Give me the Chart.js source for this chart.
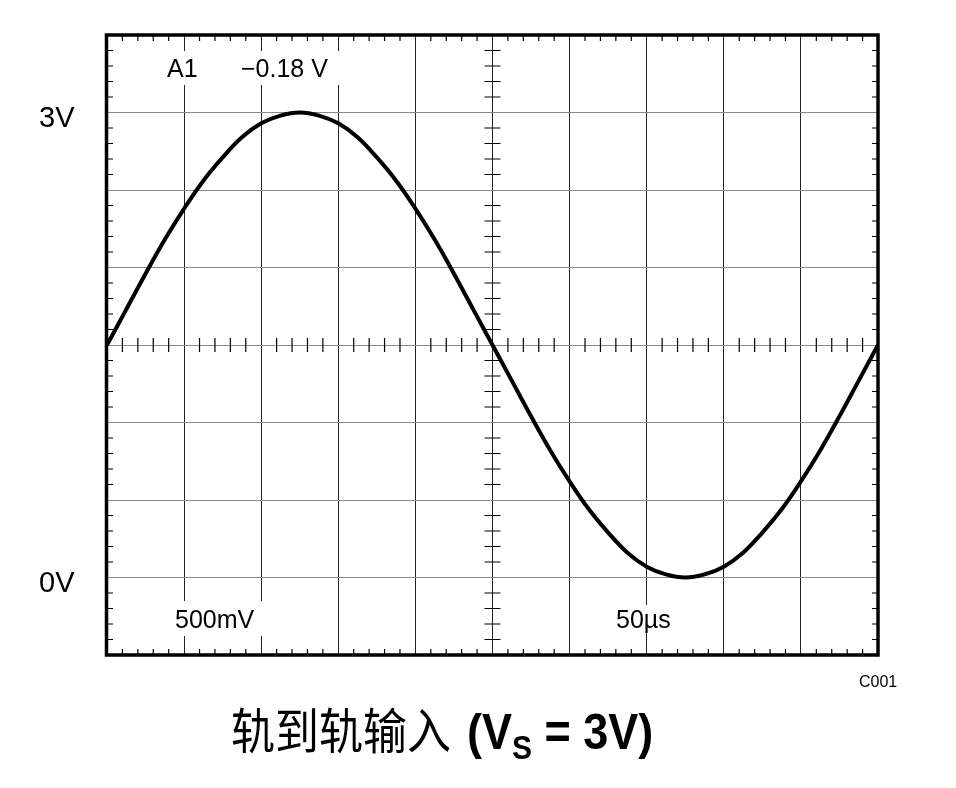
<!DOCTYPE html>
<html>
<head>
<meta charset="utf-8">
<script src="https://cdn.jsdelivr.net/npm/chart.js@4.4.1/dist/chart.umd.min.js"></script>
<style>
  html, body { margin: 0; padding: 0; background: #fff; }
  #wrap { position: relative; width: 956px; height: 788px; }
</style>
</head>
<body>
<div id="wrap"><canvas id="scope" width="956" height="788"></canvas></div>
<script>
// time in microseconds, 50us per division
const timeUs = [0, 12.5, 25, 37.5, 50, 62.5, 75, 87.5, 100, 112.5, 125, 137.5, 150, 162.5, 175, 187.5, 200, 212.5, 225, 237.5,
                250, 262.5, 275, 287.5, 300, 312.5, 325, 337.5, 350, 362.5, 375, 387.5, 400, 412.5, 425, 437.5, 450, 462.5, 475, 487.5, 500];
// input voltage, 500mV per division
const voltage = [1.50, 1.73, 1.96, 2.18, 2.38, 2.56, 2.71, 2.84, 2.93, 2.98, 3.00, 2.98, 2.93, 2.84, 2.71, 2.56, 2.38, 2.18, 1.96, 1.73,
                 1.50, 1.27, 1.04, 0.82, 0.62, 0.44, 0.29, 0.16, 0.07, 0.02, 0.00, 0.02, 0.07, 0.16, 0.29, 0.44, 0.62, 0.82, 1.04, 1.27, 1.50];
const timeRange = [0, 500];
const voltRange = [-0.5, 3.5];
const levelLabels = [3, 0];

const latin = 'Arial, "Liberation Sans", Helvetica, sans-serif';

// ticks, labels and the heavy frame of the scope screen
const scopeDecor = {
  id: 'scopeDecor',
  beforeDatasetsDraw(chart) {
    const { ctx, chartArea: a, scales: { x, y } } = chart;
    const divX = x.getPixelForValue(50) - x.getPixelForValue(0);
    const divY = y.getPixelForValue(0) - y.getPixelForValue(0.5);
    const cx = x.getPixelForValue(250);
    const cy = y.getPixelForValue(1.5);
    ctx.save();
    ctx.strokeStyle = '#000';
    ctx.lineWidth = 1.2;
    ctx.beginPath();
    for (let i = 1; i < 50; i++) {
      if (i % 5 === 0) continue;
      const px = a.left + i * divX / 5;
      // border ticks top / bottom
      ctx.moveTo(px, a.top); ctx.lineTo(px, a.top + 6);
      ctx.moveTo(px, a.bottom); ctx.lineTo(px, a.bottom - 6);
      // centre line ticks
      ctx.moveTo(px, cy - 7); ctx.lineTo(px, cy + 7);
    }
    for (let i = 1; i < 40; i++) {
      if (i % 5 === 0) continue;
      const py = a.top + i * divY / 5;
      ctx.moveTo(a.left, py); ctx.lineTo(a.left + 6, py);
      ctx.moveTo(a.right, py); ctx.lineTo(a.right - 6, py);
      ctx.moveTo(cx - 8, py); ctx.lineTo(cx + 8, py);
    }
    ctx.stroke();

    // labels inside the screen, with white background
    ctx.fillStyle = '#fff';
    ctx.fillRect(160, 51, 180, 34);
    ctx.fillRect(170, 601, 95, 35);
    ctx.fillRect(610, 605, 70, 28);
    ctx.fillStyle = '#000';
    ctx.textBaseline = 'alphabetic';
    ctx.textAlign = 'left';
    ctx.font = '25px ' + latin;
    ctx.fillText('A1', 167, 77);
    ctx.fillText('\u22120.18 V', 241, 77);
    ctx.fillText('500mV', 175, 628);
    ctx.fillText('50\u00b5s', 616, 628);
    ctx.restore();
  },
  afterDraw(chart) {
    const { ctx, chartArea: a, scales: { y } } = chart;
    ctx.save();
    ctx.strokeStyle = '#000';
    ctx.lineWidth = 3.5;
    ctx.strokeRect(a.left - 0.5, a.top, a.right - a.left + 0.5, a.bottom - a.top);

    ctx.fillStyle = '#000';
    ctx.textBaseline = 'alphabetic';
    ctx.textAlign = 'left';
    ctx.font = '29px ' + latin;
    levelLabels.forEach(v => ctx.fillText(v + 'V', 39, y.getPixelForValue(v) + 14));

    ctx.font = '16px ' + latin;
    ctx.fillText('C001', 859, 687);

    // title, slightly tall glyphs as in the original
    ctx.translate(0, 749);
    ctx.scale(1, 1.1);
    let tx = 231;
    ctx.font = '44px "Noto Sans CJK SC", sans-serif';
    ctx.fillText('轨到轨输入', tx, 0);
    tx = 467;
    ctx.font = 'bold 45px ' + latin;
    ctx.fillText('(V', tx, 0);
    tx += ctx.measureText('(V').width;
    ctx.font = 'bold 30px ' + latin;
    ctx.fillText('S', tx, 9);
    tx += ctx.measureText('S').width;
    ctx.font = 'bold 45px ' + latin;
    ctx.fillText(' = 3V)', tx, 0);
    ctx.restore();
  }
};

new Chart(document.getElementById('scope'), {
  type: 'line',
  data: {
    datasets: [{
      data: timeUs.map((t, i) => ({ x: t, y: voltage[i] })),
      borderColor: '#000',
      borderWidth: 4,
      pointRadius: 0,
      tension: 0.4,
      fill: false
    }]
  },
  options: {
    responsive: false,
    animation: false,
    layout: { padding: { left: 107, top: 35, right: 78, bottom: 133 } },
    plugins: { legend: { display: false }, tooltip: { enabled: false } },
    scales: {
      x: {
        type: 'linear', min: timeRange[0], max: timeRange[1],
        ticks: { display: false, stepSize: 50 },
        grid: { color: '#222', lineWidth: 1, drawTicks: false },
        border: { display: false }
      },
      y: {
        type: 'linear', min: voltRange[0], max: voltRange[1],
        ticks: { display: false, stepSize: 0.5 },
        grid: { color: '#888', lineWidth: 1, drawTicks: false },
        border: { display: false }
      }
    }
  },
  plugins: [scopeDecor]
});
</script>
</body>
</html>
